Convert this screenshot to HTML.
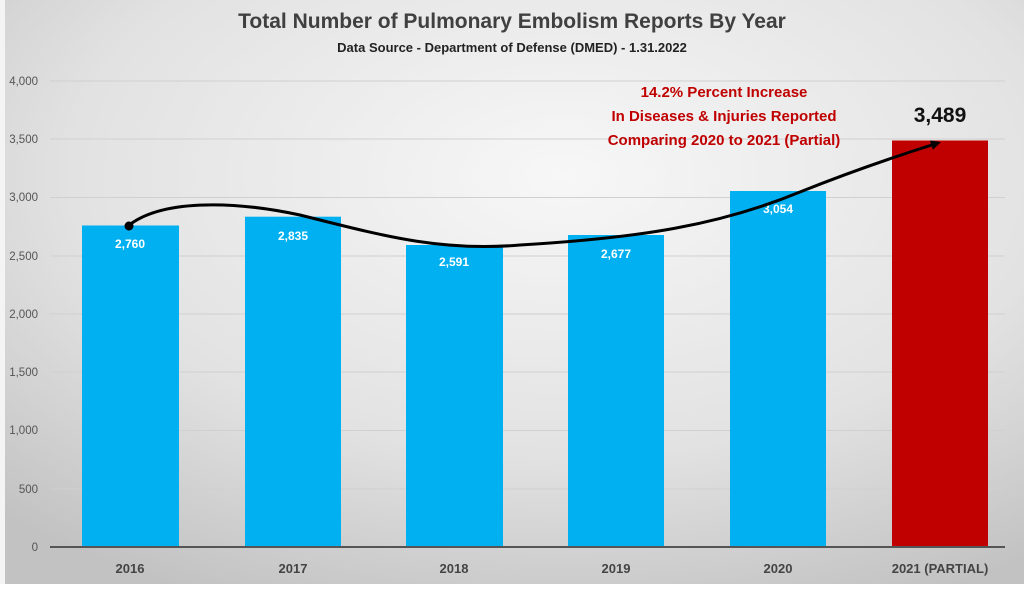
<!DOCTYPE html>
<html><head><meta charset="utf-8"><style>
body{margin:0;width:1024px;height:584px;overflow:hidden;font-family:"Liberation Sans",sans-serif;}
</style></head><body>
<svg width="1024" height="584" xmlns="http://www.w3.org/2000/svg" font-family="Liberation Sans, sans-serif">
<defs>
<radialGradient id="bg" cx="0.55" cy="0.3" r="0.8">
<stop offset="0" stop-color="#f7f7f7"/><stop offset="0.6" stop-color="#e2e2e2"/><stop offset="1" stop-color="#c2c2c2"/>
</radialGradient>
<marker id="ah" markerWidth="10" markerHeight="10" refX="7" refY="5" orient="auto" markerUnits="userSpaceOnUse"><path d="M0,0 L10,5 L0,10 z" fill="#000"/></marker>
</defs>
<rect width="1024" height="584" fill="url(#bg)"/>
<rect width="5" height="584" fill="#f4f4f4"/>
<g stroke="#d0d0d0" stroke-width="1">
<line x1="50" x2="1005" y1="81" y2="81"/><line x1="50" x2="1005" y1="139" y2="139"/>
<line x1="50" x2="1005" y1="197.5" y2="197.5"/><line x1="50" x2="1005" y1="256" y2="256"/>
<line x1="50" x2="1005" y1="314" y2="314"/><line x1="50" x2="1005" y1="372" y2="372"/>
<line x1="50" x2="1005" y1="430.5" y2="430.5"/><line x1="50" x2="1005" y1="489" y2="489"/>
</g>
<g font-size="11.5" fill="#555" text-anchor="end">
<text x="38" y="85">4,000</text><text x="38" y="143">3,500</text><text x="38" y="201">3,000</text>
<text x="38" y="260">2,500</text><text x="38" y="318">2,000</text><text x="38" y="376">1,500</text>
<text x="38" y="434">1,000</text><text x="38" y="493">500</text><text x="38" y="551">0</text>
</g>
<g fill="#00b0f0">
<rect x="82" y="225.5" width="97" height="321.5"/>
<rect x="245" y="216.7" width="96" height="330.3"/>
<rect x="406" y="245" width="97" height="302"/>
<rect x="568" y="235" width="96" height="312"/>
<rect x="730" y="191" width="96" height="356"/>
</g>
<rect x="892" y="140.5" width="96" height="406.5" fill="#c00000"/>
<line x1="50" x2="1005" y1="547" y2="547" stroke="#555" stroke-width="2"/>
<g font-size="12" font-weight="bold" fill="#fff" text-anchor="middle">
<text x="130" y="248">2,760</text><text x="293" y="240">2,835</text><text x="454" y="266">2,591</text>
<text x="616" y="258">2,677</text><text x="778" y="213">3,054</text>
</g>
<g font-size="13" font-weight="bold" fill="#444" text-anchor="middle">
<text x="130" y="573">2016</text><text x="293" y="573">2017</text><text x="454" y="573">2018</text>
<text x="616" y="573">2019</text><text x="778" y="573">2020</text><text x="940" y="573">2021 (PARTIAL)</text>
</g>
<path d="M128,226 C160,200 230,200 300,215 C380,235 440,252 520,245 C640,238 720,225 800,192 C850,172 900,155 938,143" fill="none" stroke="#000" stroke-width="3" marker-end="url(#ah)"/>
<circle cx="129" cy="226" r="4.5" fill="#000"/>
<text x="512" y="28" font-size="21" font-weight="bold" fill="#404040" text-anchor="middle">Total Number of Pulmonary Embolism Reports By Year</text>
<text x="512" y="52" font-size="13" font-weight="bold" fill="#222" text-anchor="middle">Data Source - Department of Defense (DMED) - 1.31.2022</text>
<g font-size="15" font-weight="bold" fill="#c00000" text-anchor="middle">
<text x="724" y="97">14.2% Percent Increase</text>
<text x="724" y="121">In Diseases &amp; Injuries Reported</text>
<text x="724" y="145">Comparing 2020 to 2021 (Partial)</text>
</g>
<text x="940" y="122" font-size="21" font-weight="bold" fill="#111" text-anchor="middle">3,489</text>
</svg>
</body></html>
